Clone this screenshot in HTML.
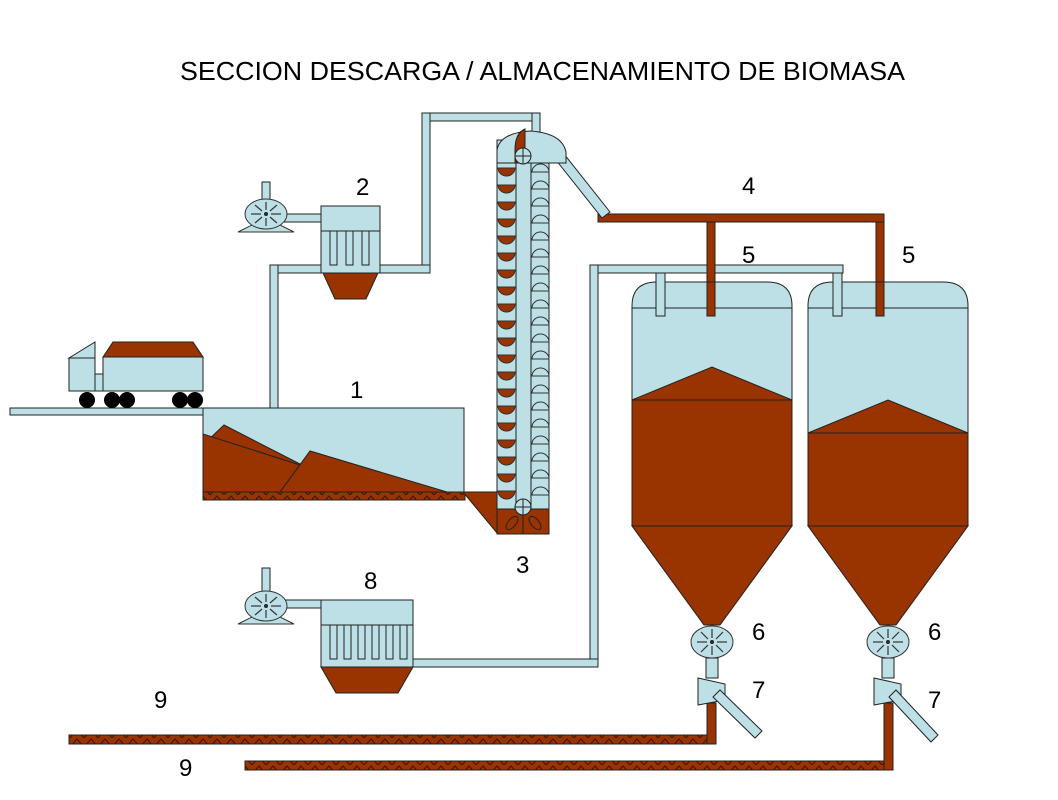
<!DOCTYPE html>
<html><head><meta charset="utf-8"><style>body{margin:0;background:#fff}svg{display:block}</style></head><body>
<svg width="1058" height="800" viewBox="0 0 1058 800" xmlns="http://www.w3.org/2000/svg" font-family="Liberation Sans, sans-serif">
<defs>
<pattern id="zz" x="0" y="0" width="14" height="9" patternUnits="userSpaceOnUse">
<rect width="14" height="9" fill="#993300"/><path d="M0,9 L7,1 L14,9" fill="none" stroke="#3a1200" stroke-width="1"/>
</pattern>
<g id="fan"><polygon points="-28,18 0,4 28,18" fill="#bde0e6" stroke="#333"/><ellipse cx="0" cy="0" rx="21" ry="15" fill="#bde0e6" stroke="#333"/>
<g stroke="#333" stroke-width="1.2"><line x1="-15" y1="0" x2="-5" y2="0"/><line x1="15" y1="0" x2="5" y2="0"/><line x1="0" y1="-12" x2="0" y2="-4"/><line x1="0" y1="12" x2="0" y2="4"/><line x1="-11" y1="-9" x2="-4" y2="-3"/><line x1="11" y1="9" x2="4" y2="3"/><line x1="11" y1="-9" x2="4" y2="-3"/><line x1="-11" y1="9" x2="-4" y2="3"/></g><circle r="1.5" fill="#333"/></g>
<g id="valve"><ellipse cx="0" cy="0" rx="21" ry="16" fill="#bde0e6" stroke="#333"/>
<g stroke="#333" stroke-width="1.2"><line x1="-15" y1="0" x2="-5" y2="0"/><line x1="15" y1="0" x2="5" y2="0"/><line x1="0" y1="-13" x2="0" y2="-4"/><line x1="0" y1="13" x2="0" y2="4"/><line x1="-11" y1="-10" x2="-4" y2="-3"/><line x1="11" y1="10" x2="4" y2="3"/><line x1="11" y1="-10" x2="4" y2="-3"/><line x1="-11" y1="10" x2="-4" y2="3"/></g><circle r="1.5" fill="#333"/></g>
</defs>
<g stroke="#222" stroke-width="1">
<text x="180" y="80" font-size="26" textLength="725" lengthAdjust="spacingAndGlyphs" stroke="none" fill="#000">SECCION DESCARGA / ALMACENAMIENTO DE BIOMASA</text>

<!-- pipes light blue -->
<g fill="#bde0e6">
<rect x="422" y="113" width="118" height="8"/>
<rect x="532" y="113" width="8" height="22"/>
<rect x="422" y="113" width="8" height="160"/>
<rect x="378" y="265" width="52" height="8"/>
<rect x="270" y="265" width="53" height="8"/>
<rect x="270" y="265" width="8" height="143"/>
<rect x="283" y="214" width="40" height="8"/>
<rect x="283" y="600" width="40" height="8"/>
<rect x="590" y="265" width="253" height="8"/>
<rect x="590" y="265" width="8" height="402"/>
<rect x="411" y="659" width="187" height="8"/>
<rect x="262" y="182" width="8" height="18"/>
<rect x="262" y="568" width="8" height="24"/>
</g>
<!-- brown pipe 4 -->
<g fill="#993300">
<rect x="598" y="214" width="286" height="8"/>
<rect x="707" y="222" width="8" height="94"/>
<rect x="876" y="222" width="8" height="94"/>
</g>
<polygon points="556,160 564,154 610,212 602,218" fill="#bde0e6"/>

<!-- truck & road -->
<rect x="10" y="408" width="195" height="7" fill="#bde0e6"/>
<polygon points="69,358 95,342 95,358" fill="#bde0e6"/>
<rect x="69" y="358" width="26" height="33" fill="#bde0e6"/>
<rect x="95" y="374" width="8" height="17" fill="#bde0e6"/>
<rect x="103" y="357" width="100" height="34" fill="#bde0e6"/>
<polygon points="103,357 113,342 193,342 203,357" fill="#993300"/>
<g fill="#000" stroke="none"><circle cx="87" cy="400" r="8"/><circle cx="112" cy="400" r="8"/><circle cx="127" cy="400" r="8"/><circle cx="180" cy="400" r="8"/><circle cx="195" cy="400" r="8"/></g>

<!-- hopper 1 -->
<rect x="203" y="408" width="261" height="85" fill="#bde0e6"/>
<polygon points="224,425 300,464 290,492 203,492 203,445" fill="#993300"/>
<polygon points="203,434 300,465 280,492 203,492" fill="#993300"/>
<polygon points="280,492 310,451 447,492" fill="#993300"/>
<rect x="203" y="492" width="262" height="8" fill="url(#zz)"/>
<polygon points="463,492 497,492 497,533" fill="#993300"/>

<!-- elevator -->
<rect x="497" y="140" width="52" height="370" fill="#bde0e6"/>
<rect x="516" y="140" width="15" height="370" fill="#bde0e6"/>
<g fill="#993300" stroke="#333">
<path d="M498,150 h17 a8.5,8 0 0 1 -17,0z"/>
<path d="M498,168 h17 a8.5,8 0 0 1 -17,0z"/><path d="M498,185 h17 a8.5,8 0 0 1 -17,0z"/><path d="M498,202 h17 a8.5,8 0 0 1 -17,0z"/><path d="M498,219 h17 a8.5,8 0 0 1 -17,0z"/><path d="M498,236 h17 a8.5,8 0 0 1 -17,0z"/><path d="M498,253 h17 a8.5,8 0 0 1 -17,0z"/><path d="M498,270 h17 a8.5,8 0 0 1 -17,0z"/><path d="M498,287 h17 a8.5,8 0 0 1 -17,0z"/><path d="M498,304 h17 a8.5,8 0 0 1 -17,0z"/><path d="M498,321 h17 a8.5,8 0 0 1 -17,0z"/><path d="M498,338 h17 a8.5,8 0 0 1 -17,0z"/><path d="M498,355 h17 a8.5,8 0 0 1 -17,0z"/><path d="M498,372 h17 a8.5,8 0 0 1 -17,0z"/><path d="M498,389 h17 a8.5,8 0 0 1 -17,0z"/><path d="M498,406 h17 a8.5,8 0 0 1 -17,0z"/><path d="M498,423 h17 a8.5,8 0 0 1 -17,0z"/><path d="M498,440 h17 a8.5,8 0 0 1 -17,0z"/><path d="M498,457 h17 a8.5,8 0 0 1 -17,0z"/><path d="M498,474 h17 a8.5,8 0 0 1 -17,0z"/><path d="M498,491 h17 a8.5,8 0 0 1 -17,0z"/>
</g>
<g fill="#bde0e6" stroke="#333">
<path d="M532,172 a8.5,8 0 0 1 17,0z"/><path d="M532,189 a8.5,8 0 0 1 17,0z"/><path d="M532,206 a8.5,8 0 0 1 17,0z"/><path d="M532,223 a8.5,8 0 0 1 17,0z"/><path d="M532,240 a8.5,8 0 0 1 17,0z"/><path d="M532,257 a8.5,8 0 0 1 17,0z"/><path d="M532,274 a8.5,8 0 0 1 17,0z"/><path d="M532,291 a8.5,8 0 0 1 17,0z"/><path d="M532,308 a8.5,8 0 0 1 17,0z"/><path d="M532,325 a8.5,8 0 0 1 17,0z"/><path d="M532,342 a8.5,8 0 0 1 17,0z"/><path d="M532,359 a8.5,8 0 0 1 17,0z"/><path d="M532,376 a8.5,8 0 0 1 17,0z"/><path d="M532,393 a8.5,8 0 0 1 17,0z"/><path d="M532,410 a8.5,8 0 0 1 17,0z"/><path d="M532,427 a8.5,8 0 0 1 17,0z"/><path d="M532,444 a8.5,8 0 0 1 17,0z"/><path d="M532,461 a8.5,8 0 0 1 17,0z"/><path d="M532,478 a8.5,8 0 0 1 17,0z"/><path d="M532,495 a8.5,8 0 0 1 17,0z"/>
</g>
<path d="M497,165 L497,150 Q500,133 530,131 Q562,133 566,152 L566,163 L497,163 Z" fill="#bde0e6"/>
<path d="M515,150 Q515,133 525,129 L525,163 L515,163Z" fill="#993300"/>
<circle cx="523" cy="156" r="8" fill="#bde0e6"/><line x1="515" y1="156" x2="531" y2="156"/><line x1="523" y1="148" x2="523" y2="164"/>
<rect x="497" y="509" width="52" height="25" fill="#993300"/>
<circle cx="523" cy="507" r="8" fill="#bde0e6"/><line x1="515" y1="507" x2="531" y2="507"/><line x1="523" y1="499" x2="523" y2="515"/>
<g fill="none"><ellipse cx="512" cy="523" rx="4" ry="8" transform="rotate(40 512 523)"/><ellipse cx="535" cy="523" rx="4" ry="8" transform="rotate(-40 535 523)"/><line x1="523" y1="515" x2="523" y2="534"/></g>

<!-- filter 2 -->
<use href="#fan" x="266" y="214"/>
<rect x="321" y="206" width="59" height="67" fill="#bde0e6"/>
<line x1="321" y1="231" x2="380" y2="231"/>
<g fill="none"><rect x="330" y="231" width="7" height="34"/><rect x="346" y="231" width="7" height="34"/><rect x="362" y="231" width="7" height="34"/></g>
<polygon points="323,273 378,273 366,299 335,299" fill="#993300"/>

<!-- filter 8 -->
<use href="#fan" x="266" y="606"/>
<rect x="321" y="600" width="92" height="67" fill="#bde0e6"/>
<line x1="321" y1="625" x2="413" y2="625"/>
<g fill="none"><rect x="330" y="625" width="7" height="34"/><rect x="344" y="625" width="7" height="34"/><rect x="358" y="625" width="7" height="34"/><rect x="372" y="625" width="7" height="34"/><rect x="386" y="625" width="7" height="34"/><rect x="400" y="625" width="7" height="34"/></g>
<polygon points="321,667 413,667 398,693 336,693" fill="#993300"/>

<!-- silo 1 -->
<path d="M632,308 L632,306 Q632,282 657,282 L767,282 Q792,282 792,306 L792,308Z" fill="#bde0e6"/>
<rect x="632" y="308" width="160" height="218" fill="#bde0e6"/>
<rect x="632" y="400" width="160" height="126" fill="#993300"/>
<polygon points="632,400 712,367 792,400" fill="#993300"/>
<polygon points="632,526 792,526 720,625 704,625" fill="#993300"/>
<!-- silo 2 -->
<path d="M808,308 L808,306 Q808,282 833,282 L943,282 Q968,282 968,306 L968,308Z" fill="#bde0e6"/>
<rect x="808" y="308" width="160" height="218" fill="#bde0e6"/>
<rect x="808" y="433" width="160" height="93" fill="#993300"/>
<polygon points="808,433 888,400 968,433" fill="#993300"/>
<polygon points="808,526 968,526 896,625 880,625" fill="#993300"/>
<g fill="#993300"><rect x="707" y="282" width="8" height="34"/><rect x="876" y="282" width="8" height="34"/></g>
<g fill="#bde0e6"><rect x="656" y="273" width="9" height="43"/><rect x="833" y="273" width="9" height="43"/></g>

<!-- valves, 7 -->
<rect x="706" y="658" width="12" height="20" fill="#bde0e6"/>
<use href="#valve" x="712" y="642"/>
<rect x="882" y="658" width="12" height="20" fill="#bde0e6"/>
<use href="#valve" x="888" y="642"/>
<rect x="69" y="735" width="647" height="9" fill="url(#zz)"/>
<rect x="707" y="703" width="9" height="41" fill="#993300"/>
<rect x="245" y="761" width="648" height="9" fill="url(#zz)"/>
<rect x="884" y="703" width="9" height="67" fill="#993300"/>
<polygon points="698,678 725,684 725,700 698,705" fill="#bde0e6"/>
<polygon points="713,697 720,690 762,731 755,738" fill="#bde0e6"/>
<polygon points="874,678 901,684 901,700 874,705" fill="#bde0e6"/>
<polygon points="889,697 896,690 938,735 931,742" fill="#bde0e6"/>
</g>
<g font-size="24" fill="#000">
<text x="350" y="398">1</text><text x="356" y="195">2</text><text x="516" y="573">3</text><text x="742" y="194">4</text>
<text x="742" y="263">5</text><text x="902" y="263">5</text><text x="752" y="640">6</text><text x="928" y="640">6</text>
<text x="752" y="698">7</text><text x="928" y="708">7</text><text x="364" y="589">8</text><text x="154" y="708">9</text><text x="179" y="776">9</text>
</g>
</svg>
</body></html>
